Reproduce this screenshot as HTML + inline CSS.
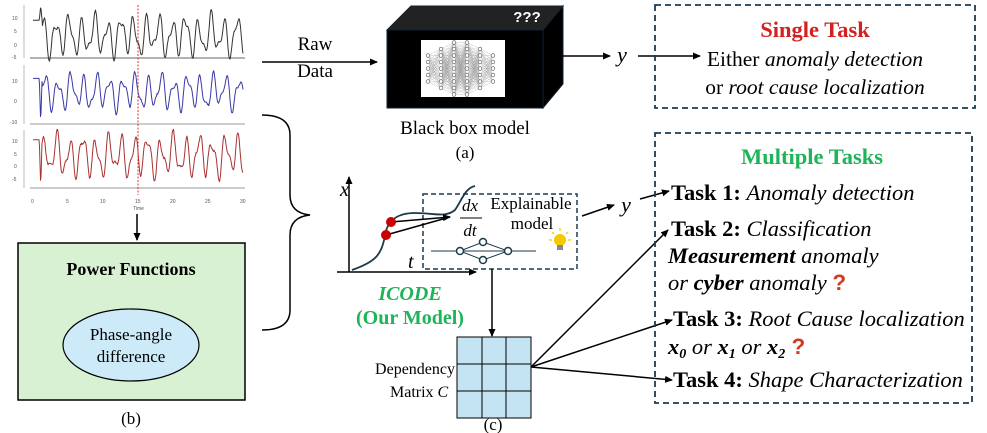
<!DOCTYPE html>
<html><head><meta charset="utf-8"><style>
body{margin:0;background:#fff;}
svg{display:block;font-family:"Liberation Serif",serif;}
</style></head><body>
<svg id="s" width="987" height="433" viewBox="0 0 987 433" xmlns="http://www.w3.org/2000/svg">
<defs>
<marker id="ar" markerWidth="8" markerHeight="8" refX="7" refY="4" orient="auto" markerUnits="userSpaceOnUse"><path d="M0,0.5 L8,4 L0,7.5 z" fill="#000"/></marker>
</defs>
<g id="ts" font-family="Liberation Sans,sans-serif" font-size="5" fill="#555">
<line x1="30" y1="58" x2="245" y2="58" stroke="#999" stroke-width="1.5"/>
<line x1="30" y1="124" x2="245" y2="124" stroke="#999" stroke-width="1"/>
<line x1="30" y1="188" x2="245" y2="188" stroke="#999" stroke-width="1"/>
<line x1="24" y1="5" x2="24" y2="58" stroke="#bbb"/>
<line x1="24" y1="65" x2="24" y2="124" stroke="#bbb"/>
<line x1="24" y1="130" x2="24" y2="188" stroke="#bbb"/>
<text x="12" y="20">10</text><text x="14" y="33">5</text><text x="14" y="47">0</text><text x="12" y="59">-5</text>
<text x="12" y="83">10</text><text x="14" y="103">0</text><text x="10" y="124">-10</text>
<text x="12" y="143">10</text><text x="14" y="156">5</text><text x="14" y="168">0</text><text x="12" y="181">-5</text>
<text x="31" y="203">0</text><text x="66" y="203">5</text><text x="100" y="203">10</text><text x="135" y="203">15</text><text x="170" y="203">20</text><text x="205" y="203">25</text><text x="240" y="203">30</text>
<text x="133" y="210">Time</text>
<line x1="138" y1="5" x2="138" y2="195" stroke="#e03030" stroke-width="1" stroke-dasharray="2,1.5"/>
</g>
<line x1="137" y1="214" x2="137" y2="240" stroke="#000" stroke-width="1.5" marker-end="url(#ar)"/>
<rect x="18" y="243" width="227" height="157" fill="#d9f1d3" stroke="#000" stroke-width="1.5"/>
<text x="131" y="275" text-anchor="middle" font-size="18" font-weight="bold">Power Functions</text>
<ellipse cx="131" cy="345" rx="68" ry="36" fill="#cdeaf8" stroke="#000" stroke-width="1.2"/>
<text x="131" y="340" text-anchor="middle" font-size="17">Phase-angle</text>
<text x="131" y="362" text-anchor="middle" font-size="17">difference</text>
<text x="131" y="424" text-anchor="middle" font-size="17">(b)</text>
<path d="M262,115 Q290,115 290,135 L290,195 Q290,213 310,215 Q290,217 290,235 L290,310 Q290,330 262,330" fill="none" stroke="#000" stroke-width="1.5"/>
<text x="315" y="50" text-anchor="middle" font-size="19">Raw</text>
<text x="315" y="77" text-anchor="middle" font-size="19">Data</text>
<line x1="262" y1="62" x2="377" y2="62" stroke="#000" stroke-width="1.5" marker-end="url(#ar)"/>
<polygon points="387,30 411,6 563,6 543,30" fill="#222" stroke="#123" />
<polygon points="543,30 563,6 563,84 543,108" fill="#000" stroke="#123"/>
<rect x="387" y="30" width="156" height="78" fill="#000" stroke="#123"/>
<text x="527" y="22" text-anchor="middle" font-family="Liberation Sans,sans-serif" font-weight="bold" font-size="15" fill="#fff">???</text>
<rect x="421" y="40" width="84" height="57" fill="#fff"/>
<g id="nn" stroke="#999" stroke-width="0.3" fill="none"></g>
<text x="465" y="134" text-anchor="middle" font-size="19">Black box model</text>
<text x="465" y="158" text-anchor="middle" font-size="17">(a)</text>
<line x1="548" y1="56" x2="610" y2="56" stroke="#000" stroke-width="1.5" marker-end="url(#ar)"/>
<text x="622" y="62" text-anchor="middle" font-size="22" font-style="italic">y</text>
<line x1="638" y1="56" x2="700" y2="56" stroke="#000" stroke-width="1.5" marker-end="url(#ar)"/>
<rect x="655" y="5" width="320" height="103" fill="none" stroke="#1f3a4d" stroke-width="1.8" stroke-dasharray="6,4"/>
<text x="815" y="37" text-anchor="middle" font-size="22.5" font-weight="bold" fill="#d42020">Single Task</text>
<text x="815" y="66" text-anchor="middle" font-size="21.5">Either <tspan font-style="italic">anomaly detection</tspan></text>
<text x="815" y="94" text-anchor="middle" font-size="21.5">or <tspan font-style="italic">root cause localization</tspan></text>
<line x1="349" y1="272" x2="349" y2="177" stroke="#000" stroke-width="1.5" marker-end="url(#ar)"/>
<line x1="337" y1="272" x2="476" y2="272" stroke="#000" stroke-width="1.5" marker-end="url(#ar)"/>
<text x="340" y="196" font-size="20" font-style="italic">x</text>
<text x="408" y="268" font-size="20" font-style="italic">t</text>
<path d="M352,270 C375,262 382,255 385,235 C388,218 400,213 415,213 C435,213 445,218 455,210 C462,200 465,188 475,186" fill="none" stroke="#1b3a4b" stroke-width="1.8"/>
<rect x="423" y="194" width="154" height="75" fill="none" stroke="#1f3a4d" stroke-width="1.5" stroke-dasharray="5,3"/>
<line x1="391" y1="222" x2="450" y2="217" stroke="#000" stroke-width="1.5" marker-end="url(#ar)"/>
<line x1="386" y1="235" x2="450" y2="217" stroke="#000" stroke-width="1.5"/>
<circle cx="391" cy="222" r="5" fill="#c80000"/>
<circle cx="386" cy="235" r="5" fill="#c80000"/>
<text x="470" y="211" text-anchor="middle" font-size="17" font-style="italic">dx</text>
<line x1="460" y1="218" x2="482" y2="218" stroke="#000" stroke-width="1"/>
<text x="470" y="236" text-anchor="middle" font-size="17" font-style="italic">dt</text>
<text x="531" y="209" text-anchor="middle" font-size="17">Explainable</text>
<text x="532" y="229" text-anchor="middle" font-size="17">model</text>
<g stroke="#1b3a4b" stroke-width="1" fill="#fff">
<line x1="431" y1="251" x2="536" y2="251"/>
<path d="M460,251 L483,242 L508,251 L483,260 Z" fill="none"/>
<circle cx="460" cy="251" r="3.5" stroke-width="1.5"/><circle cx="483" cy="242" r="3.5" stroke-width="1.5"/><circle cx="483" cy="260" r="3.5" stroke-width="1.5"/><circle cx="508" cy="251" r="3.5" stroke-width="1.5"/>
</g>
<g>
<circle cx="560" cy="240" r="6" fill="#f5c800"/>
<rect x="557" y="245" width="6" height="5" fill="#888"/>
<g stroke="#f5c800" stroke-width="1.2"><line x1="560" y1="228" x2="560" y2="231"/><line x1="549" y1="240" x2="552" y2="240"/><line x1="568" y1="240" x2="571" y2="240"/><line x1="552" y1="232" x2="554" y2="234"/><line x1="568" y1="232" x2="566" y2="234"/></g>
</g>
<text x="410" y="300" text-anchor="middle" font-size="20" font-style="italic" font-weight="bold" fill="#1fb35a">ICODE</text>
<text x="410" y="324" text-anchor="middle" font-size="20" font-weight="bold" fill="#1fb35a">(Our Model)</text>
<line x1="492" y1="269" x2="492" y2="336" stroke="#000" stroke-width="1.5" marker-end="url(#ar)"/>
<g fill="#c4e4f4" stroke="#000" stroke-width="1">
<rect x="457" y="337" width="74" height="81"/>
<line x1="482" y1="337" x2="482" y2="418"/><line x1="506" y1="337" x2="506" y2="418"/>
<line x1="457" y1="364" x2="531" y2="364"/><line x1="457" y1="391" x2="531" y2="391"/>
</g>
<text x="455" y="374" text-anchor="end" font-size="16">Dependency</text>
<text x="390" y="397" font-size="16">Matrix <tspan font-style="italic">C</tspan></text>
<text x="493" y="430" text-anchor="middle" font-size="17">(c)</text>
<line x1="582" y1="216" x2="614" y2="205" stroke="#000" stroke-width="1.5" marker-end="url(#ar)"/>
<text x="626" y="212" text-anchor="middle" font-size="22" font-style="italic">y</text>
<line x1="640" y1="199" x2="669" y2="191" stroke="#000" stroke-width="1.5" marker-end="url(#ar)"/>
<line x1="531" y1="367" x2="668" y2="230" stroke="#000" stroke-width="1.5" marker-end="url(#ar)"/>
<line x1="531" y1="367" x2="672" y2="320" stroke="#000" stroke-width="1.5" marker-end="url(#ar)"/>
<line x1="531" y1="367" x2="672" y2="380" stroke="#000" stroke-width="1.5" marker-end="url(#ar)"/>
<rect x="655" y="133" width="317" height="270" fill="none" stroke="#1f3a4d" stroke-width="1.8" stroke-dasharray="6,4"/>
<text x="812" y="164" text-anchor="middle" font-size="22.5" font-weight="bold" fill="#1fb35a">Multiple Tasks</text>
<g font-size="22.5">
<text x="671" y="200"><tspan font-weight="bold">Task 1:</tspan> <tspan font-style="italic">Anomaly detection</tspan></text>
<text x="671" y="236"><tspan font-weight="bold">Task 2:</tspan> <tspan font-style="italic">Classification</tspan></text>
<text x="668" y="263" font-style="italic"><tspan font-weight="bold">Measurement</tspan> anomaly</text>
<text x="668" y="290" font-style="italic">or <tspan font-weight="bold">cyber</tspan> anomaly <tspan font-style="normal" font-weight="bold" fill="#d43a20" font-family="Liberation Sans,sans-serif">?</tspan></text>
<text x="673" y="326"><tspan font-weight="bold">Task 3:</tspan> <tspan font-style="italic">Root Cause localization</tspan></text>
<text x="668" y="354" font-style="italic" font-weight="bold">x<tspan font-size="14" dy="4">0</tspan><tspan dy="-4" font-weight="normal"> or </tspan>x<tspan font-size="14" dy="4">1</tspan><tspan dy="-4" font-weight="normal"> or </tspan>x<tspan font-size="14" dy="4">2</tspan><tspan dy="-4" font-style="normal" fill="#d43a20" font-family="Liberation Sans,sans-serif">  ?</tspan></text>
<text x="673" y="387"><tspan font-weight="bold">Task 4:</tspan> <tspan font-style="italic">Shape Characterization</tspan></text>
</g>
</svg>
<script>
(function(){
var NS="http://www.w3.org/2000/svg",ts=document.getElementById("ts");
function series(y0,y1,lo,hi,col,seed,spike){
 var d="",r=seed;
 function rnd(){r=(r*9301+49297)%233280;return r/233280;}
 var ph=[rnd()*6,rnd()*6,rnd()*6];
 for(var i=0;i<=420;i++){
  var t=i/14, v;
  if(t<0.9) v=8; else if(t<1.3) v=spike+ (8-spike)*Math.abs(t-1.1)/0.2;
  else v=2.5+5.5*Math.sin(t*3.4+ph[0])+2.5*Math.sin(t*6.1+ph[1])+1.2*Math.sin(t*1.5+ph[2])+(rnd()-0.5)*0.6;
  var x=33+t*7, y=y1-(v-lo)/(hi-lo)*(y1-y0);
  d+=(i?"L":"M")+x.toFixed(1)+","+y.toFixed(1);
 }
 var p=document.createElementNS(NS,"path");p.setAttribute("d",d);p.setAttribute("fill","none");p.setAttribute("stroke",col);p.setAttribute("stroke-width","1");p.setAttribute("stroke-linejoin","round");ts.insertBefore(p,ts.lastElementChild);
}
series(6,57,-5,13,"#333",7,13);series(66,123,-10,13,"#3838a8",3,-10);series(131,187,-8,11,"#a83232",5,-8);
var nn=document.getElementById("nn"),cols=[[60,5],[73,7],[86,9],[99,9],[112,7],[125,5]];
var pts=cols.map(function(c){var a=[];for(var k=0;k<c[1];k++)a.push([c[0]+368,68.5+(k-(c[1]-1)/2)*6.5]);return a;});
for(var i=0;i<pts.length-1;i++)pts[i].forEach(function(a){pts[i+1].forEach(function(b){var l=document.createElementNS(NS,"line");l.setAttribute("x1",a[0]);l.setAttribute("y1",a[1]);l.setAttribute("x2",b[0]);l.setAttribute("y2",b[1]);nn.appendChild(l);});});
pts.forEach(function(c){c.forEach(function(a){var e=document.createElementNS(NS,"circle");e.setAttribute("cx",a[0]);e.setAttribute("cy",a[1]);e.setAttribute("r","1.8");e.setAttribute("stroke","#555");e.setAttribute("stroke-width","0.6");e.setAttribute("fill","#fff");nn.appendChild(e);});});
})();
</script>
</body></html>
